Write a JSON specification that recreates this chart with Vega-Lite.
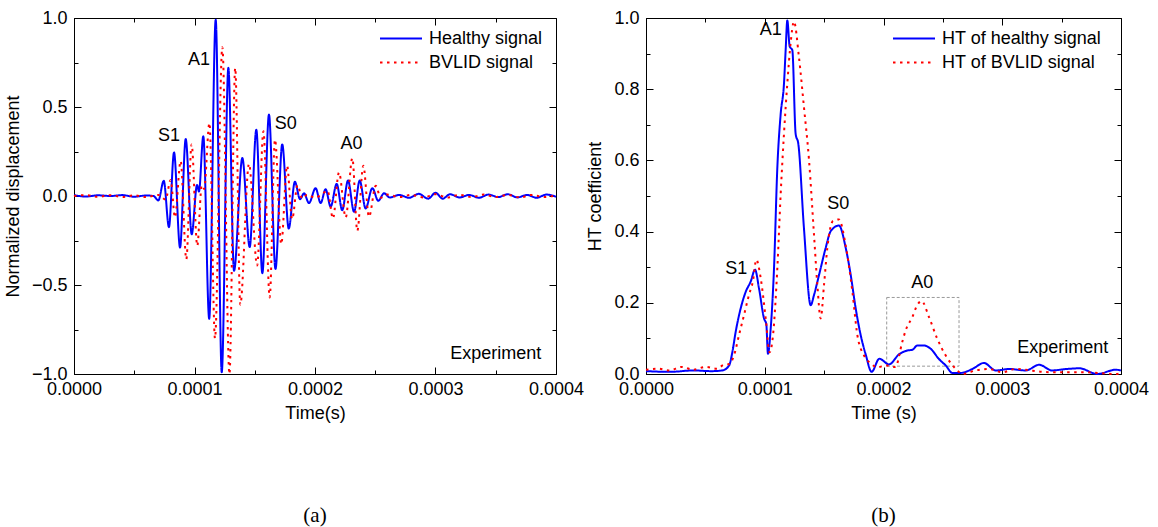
{
  "$schema": "https://vega.github.io/schema/vega-lite/v6.json",
  "padding": {"left": 3, "top": 8, "right": 5, "bottom": 5},
  "background": "white",
  "config": {
    "font": "Liberation Sans",
    "view": {"stroke": "black", "strokeWidth": 1},
    "axis": {
      "grid": false,
      "domainColor": "black",
      "tickColor": "black",
      "labelColor": "black",
      "titleColor": "black",
      "labelFont": "Liberation Sans",
      "titleFont": "Liberation Sans",
      "labelFontSize": 18,
      "titleFontSize": 18,
      "titleFontWeight": "normal",
      "labelOverlap": false,
      "labelFlush": false
    },
    "legend": {
      "labelFont": "Liberation Sans",
      "labelFontSize": 18,
      "labelColor": "black"
    }
  },
  "datasets": {
    "sigA": [
      {"t": 0, "v": 0.005, "s": "Healthy signal"},
      {"t": 0.1e-4, "v": -0.003, "s": "Healthy signal"},
      {"t": 0.2e-4, "v": 0.004, "s": "Healthy signal"},
      {"t": 0.3e-4, "v": 0, "s": "Healthy signal"},
      {"t": 0.4e-4, "v": 0.005, "s": "Healthy signal"},
      {"t": 0.5e-4, "v": -0.004, "s": "Healthy signal"},
      {"t": 0.6e-4, "v": 0.003, "s": "Healthy signal"},
      {"t": 0.66e-4, "v": 0, "s": "Healthy signal"},
      {"t": 0.70e-4, "v": -0.025, "s": "Healthy signal"},
      {"t": 0.745e-4, "v": 0.085, "s": "Healthy signal"},
      {"t": 0.788e-4, "v": -0.175, "s": "Healthy signal"},
      {"t": 0.83e-4, "v": 0.245, "s": "Healthy signal"},
      {"t": 0.88e-4, "v": -0.29, "s": "Healthy signal"},
      {"t": 0.927e-4, "v": 0.32, "s": "Healthy signal"},
      {"t": 0.977e-4, "v": -0.215, "s": "Healthy signal"},
      {"t": 1.021e-4, "v": 0.062, "s": "Healthy signal"},
      {"t": 1.037e-4, "v": 0.025, "s": "Healthy signal"},
      {"t": 1.073e-4, "v": 0.336, "s": "Healthy signal"},
      {"t": 1.122e-4, "v": -0.69, "s": "Healthy signal"},
      {"t": 1.176e-4, "v": 0.99, "s": "Healthy signal"},
      {"t": 1.226e-4, "v": -0.99, "s": "Healthy signal"},
      {"t": 1.281e-4, "v": 0.72, "s": "Healthy signal"},
      {"t": 1.328e-4, "v": -0.42, "s": "Healthy signal"},
      {"t": 1.397e-4, "v": 0.213, "s": "Healthy signal"},
      {"t": 1.458e-4, "v": -0.287, "s": "Healthy signal"},
      {"t": 1.513e-4, "v": 0.372, "s": "Healthy signal"},
      {"t": 1.563e-4, "v": -0.434, "s": "Healthy signal"},
      {"t": 1.618e-4, "v": 0.458, "s": "Healthy signal"},
      {"t": 1.672e-4, "v": -0.41, "s": "Healthy signal"},
      {"t": 1.728e-4, "v": 0.29, "s": "Healthy signal"},
      {"t": 1.782e-4, "v": -0.183, "s": "Healthy signal"},
      {"t": 1.833e-4, "v": 0.08, "s": "Healthy signal"},
      {"t": 1.876e-4, "v": -0.018, "s": "Healthy signal"},
      {"t": 1.909e-4, "v": 0.015, "s": "Healthy signal"},
      {"t": 1.95e-4, "v": -0.04, "s": "Healthy signal"},
      {"t": 2.005e-4, "v": 0.044, "s": "Healthy signal"},
      {"t": 2.047e-4, "v": -0.04, "s": "Healthy signal"},
      {"t": 2.088e-4, "v": 0.038, "s": "Healthy signal"},
      {"t": 2.13e-4, "v": -0.06, "s": "Healthy signal"},
      {"t": 2.18e-4, "v": 0.068, "s": "Healthy signal"},
      {"t": 2.226e-4, "v": -0.08, "s": "Healthy signal"},
      {"t": 2.274e-4, "v": 0.087, "s": "Healthy signal"},
      {"t": 2.324e-4, "v": -0.089, "s": "Healthy signal"},
      {"t": 2.371e-4, "v": 0.087, "s": "Healthy signal"},
      {"t": 2.42e-4, "v": -0.07, "s": "Healthy signal"},
      {"t": 2.476e-4, "v": 0.044, "s": "Healthy signal"},
      {"t": 2.525e-4, "v": -0.027, "s": "Healthy signal"},
      {"t": 2.573e-4, "v": 0.015, "s": "Healthy signal"},
      {"t": 2.62e-4, "v": -0.008, "s": "Healthy signal"},
      {"t": 2.7e-4, "v": 0.006, "s": "Healthy signal"},
      {"t": 2.78e-4, "v": -0.01, "s": "Healthy signal"},
      {"t": 2.86e-4, "v": 0.012, "s": "Healthy signal"},
      {"t": 2.94e-4, "v": -0.015, "s": "Healthy signal"},
      {"t": 3.0e-4, "v": 0.018, "s": "Healthy signal"},
      {"t": 3.06e-4, "v": -0.015, "s": "Healthy signal"},
      {"t": 3.12e-4, "v": 0.01, "s": "Healthy signal"},
      {"t": 3.2e-4, "v": -0.008, "s": "Healthy signal"},
      {"t": 3.28e-4, "v": 0.006, "s": "Healthy signal"},
      {"t": 3.36e-4, "v": -0.01, "s": "Healthy signal"},
      {"t": 3.44e-4, "v": 0.008, "s": "Healthy signal"},
      {"t": 3.52e-4, "v": -0.006, "s": "Healthy signal"},
      {"t": 3.6e-4, "v": 0.01, "s": "Healthy signal"},
      {"t": 3.68e-4, "v": -0.008, "s": "Healthy signal"},
      {"t": 3.76e-4, "v": 0.006, "s": "Healthy signal"},
      {"t": 3.84e-4, "v": -0.01, "s": "Healthy signal"},
      {"t": 3.92e-4, "v": 0.008, "s": "Healthy signal"},
      {"t": 4.0e-4, "v": -0.004, "s": "Healthy signal"},
      {"t": 0, "v": 0, "s": "BVLID signal"},
      {"t": 0.1e-4, "v": 0.005, "s": "BVLID signal"},
      {"t": 0.2e-4, "v": -0.004, "s": "BVLID signal"},
      {"t": 0.3e-4, "v": 0.004, "s": "BVLID signal"},
      {"t": 0.4e-4, "v": -0.005, "s": "BVLID signal"},
      {"t": 0.5e-4, "v": 0.004, "s": "BVLID signal"},
      {"t": 0.6e-4, "v": -0.006, "s": "BVLID signal"},
      {"t": 0.7e-4, "v": 0.006, "s": "BVLID signal"},
      {"t": 0.76e-4, "v": -0.02, "s": "BVLID signal"},
      {"t": 0.802e-4, "v": 0.09, "s": "BVLID signal"},
      {"t": 0.838e-4, "v": -0.12, "s": "BVLID signal"},
      {"t": 0.885e-4, "v": 0.197, "s": "BVLID signal"},
      {"t": 0.932e-4, "v": -0.355, "s": "BVLID signal"},
      {"t": 0.976e-4, "v": 0.29, "s": "BVLID signal"},
      {"t": 1.023e-4, "v": -0.28, "s": "BVLID signal"},
      {"t": 1.06e-4, "v": 0.06, "s": "BVLID signal"},
      {"t": 1.08e-4, "v": 0.04, "s": "BVLID signal"},
      {"t": 1.124e-4, "v": 0.41, "s": "BVLID signal"},
      {"t": 1.17e-4, "v": -0.80, "s": "BVLID signal"},
      {"t": 1.231e-4, "v": 0.836, "s": "BVLID signal"},
      {"t": 1.29e-4, "v": -1.0, "s": "BVLID signal"},
      {"t": 1.338e-4, "v": 0.72, "s": "BVLID signal"},
      {"t": 1.38e-4, "v": -0.61, "s": "BVLID signal"},
      {"t": 1.452e-4, "v": 0.18, "s": "BVLID signal"},
      {"t": 1.52e-4, "v": -0.39, "s": "BVLID signal"},
      {"t": 1.572e-4, "v": 0.364, "s": "BVLID signal"},
      {"t": 1.624e-4, "v": -0.57, "s": "BVLID signal"},
      {"t": 1.668e-4, "v": 0.317, "s": "BVLID signal"},
      {"t": 1.72e-4, "v": -0.27, "s": "BVLID signal"},
      {"t": 1.768e-4, "v": 0.17, "s": "BVLID signal"},
      {"t": 1.81e-4, "v": -0.13, "s": "BVLID signal"},
      {"t": 1.855e-4, "v": 0.06, "s": "BVLID signal"},
      {"t": 1.895e-4, "v": -0.015, "s": "BVLID signal"},
      {"t": 1.935e-4, "v": 0.008, "s": "BVLID signal"},
      {"t": 2.0e-4, "v": -0.01, "s": "BVLID signal"},
      {"t": 2.06e-4, "v": 0.012, "s": "BVLID signal"},
      {"t": 2.105e-4, "v": 0.03, "s": "BVLID signal"},
      {"t": 2.149e-4, "v": -0.126, "s": "BVLID signal"},
      {"t": 2.199e-4, "v": 0.132, "s": "BVLID signal"},
      {"t": 2.255e-4, "v": -0.12, "s": "BVLID signal"},
      {"t": 2.31e-4, "v": 0.213, "s": "BVLID signal"},
      {"t": 2.351e-4, "v": -0.196, "s": "BVLID signal"},
      {"t": 2.401e-4, "v": 0.17, "s": "BVLID signal"},
      {"t": 2.448e-4, "v": -0.117, "s": "BVLID signal"},
      {"t": 2.504e-4, "v": 0.057, "s": "BVLID signal"},
      {"t": 2.545e-4, "v": -0.01, "s": "BVLID signal"},
      {"t": 2.6e-4, "v": 0.008, "s": "BVLID signal"},
      {"t": 2.7e-4, "v": -0.006, "s": "BVLID signal"},
      {"t": 2.8e-4, "v": 0.006, "s": "BVLID signal"},
      {"t": 2.9e-4, "v": -0.008, "s": "BVLID signal"},
      {"t": 3.0e-4, "v": 0.01, "s": "BVLID signal"},
      {"t": 3.1e-4, "v": -0.008, "s": "BVLID signal"},
      {"t": 3.2e-4, "v": 0.006, "s": "BVLID signal"},
      {"t": 3.3e-4, "v": -0.006, "s": "BVLID signal"},
      {"t": 3.4e-4, "v": 0.008, "s": "BVLID signal"},
      {"t": 3.5e-4, "v": -0.006, "s": "BVLID signal"},
      {"t": 3.6e-4, "v": 0.006, "s": "BVLID signal"},
      {"t": 3.7e-4, "v": -0.008, "s": "BVLID signal"},
      {"t": 3.8e-4, "v": 0.006, "s": "BVLID signal"},
      {"t": 3.9e-4, "v": -0.006, "s": "BVLID signal"},
      {"t": 4.0e-4, "v": 0.004, "s": "BVLID signal"}
    ],
    "sigB": [
      {"t": 0, "v": 0.008, "s": "HT of healthy signal"},
      {"t": 0.2e-4, "v": 0.006, "s": "HT of healthy signal"},
      {"t": 0.4e-4, "v": 0.01, "s": "HT of healthy signal"},
      {"t": 0.55e-4, "v": 0.008, "s": "HT of healthy signal"},
      {"t": 0.643e-4, "v": 0.01, "s": "HT of healthy signal"},
      {"t": 0.70e-4, "v": 0.024, "s": "HT of healthy signal"},
      {"t": 0.727e-4, "v": 0.061, "s": "HT of healthy signal"},
      {"t": 0.755e-4, "v": 0.118, "s": "HT of healthy signal"},
      {"t": 0.797e-4, "v": 0.184, "s": "HT of healthy signal"},
      {"t": 0.84e-4, "v": 0.231, "s": "HT of healthy signal"},
      {"t": 0.882e-4, "v": 0.26, "s": "HT of healthy signal"},
      {"t": 0.918e-4, "v": 0.293, "s": "HT of healthy signal"},
      {"t": 0.952e-4, "v": 0.24, "s": "HT of healthy signal"},
      {"t": 0.994e-4, "v": 0.156, "s": "HT of healthy signal"},
      {"t": 1.013e-4, "v": 0.14, "s": "HT of healthy signal"},
      {"t": 1.027e-4, "v": 0.057, "s": "HT of healthy signal"},
      {"t": 1.05e-4, "v": 0.127, "s": "HT of healthy signal"},
      {"t": 1.078e-4, "v": 0.297, "s": "HT of healthy signal"},
      {"t": 1.106e-4, "v": 0.58, "s": "HT of healthy signal"},
      {"t": 1.134e-4, "v": 0.73, "s": "HT of healthy signal"},
      {"t": 1.162e-4, "v": 0.816, "s": "HT of healthy signal"},
      {"t": 1.176e-4, "v": 0.91, "s": "HT of healthy signal"},
      {"t": 1.19e-4, "v": 0.993, "s": "HT of healthy signal"},
      {"t": 1.21e-4, "v": 0.92, "s": "HT of healthy signal"},
      {"t": 1.232e-4, "v": 0.91, "s": "HT of healthy signal"},
      {"t": 1.26e-4, "v": 0.675, "s": "HT of healthy signal"},
      {"t": 1.283e-4, "v": 0.646, "s": "HT of healthy signal"},
      {"t": 1.33e-4, "v": 0.41, "s": "HT of healthy signal"},
      {"t": 1.387e-4, "v": 0.193, "s": "HT of healthy signal"},
      {"t": 1.415e-4, "v": 0.222, "s": "HT of healthy signal"},
      {"t": 1.457e-4, "v": 0.278, "s": "HT of healthy signal"},
      {"t": 1.513e-4, "v": 0.354, "s": "HT of healthy signal"},
      {"t": 1.555e-4, "v": 0.401, "s": "HT of healthy signal"},
      {"t": 1.625e-4, "v": 0.417, "s": "HT of healthy signal"},
      {"t": 1.682e-4, "v": 0.354, "s": "HT of healthy signal"},
      {"t": 1.724e-4, "v": 0.278, "s": "HT of healthy signal"},
      {"t": 1.766e-4, "v": 0.184, "s": "HT of healthy signal"},
      {"t": 1.808e-4, "v": 0.109, "s": "HT of healthy signal"},
      {"t": 1.85e-4, "v": 0.055, "s": "HT of healthy signal"},
      {"t": 1.9e-4, "v": 0.006, "s": "HT of healthy signal"},
      {"t": 1.965e-4, "v": 0.043, "s": "HT of healthy signal"},
      {"t": 2.046e-4, "v": 0.027, "s": "HT of healthy signal"},
      {"t": 2.13e-4, "v": 0.055, "s": "HT of healthy signal"},
      {"t": 2.2e-4, "v": 0.066, "s": "HT of healthy signal"},
      {"t": 2.243e-4, "v": 0.068, "s": "HT of healthy signal"},
      {"t": 2.285e-4, "v": 0.08, "s": "HT of healthy signal"},
      {"t": 2.341e-4, "v": 0.08, "s": "HT of healthy signal"},
      {"t": 2.397e-4, "v": 0.071, "s": "HT of healthy signal"},
      {"t": 2.467e-4, "v": 0.042, "s": "HT of healthy signal"},
      {"t": 2.524e-4, "v": 0.024, "s": "HT of healthy signal"},
      {"t": 2.58e-4, "v": 0.003, "s": "HT of healthy signal"},
      {"t": 2.65e-4, "v": 0.003, "s": "HT of healthy signal"},
      {"t": 2.748e-4, "v": 0.014, "s": "HT of healthy signal"},
      {"t": 2.846e-4, "v": 0.031, "s": "HT of healthy signal"},
      {"t": 2.945e-4, "v": 0.01, "s": "HT of healthy signal"},
      {"t": 3.06e-4, "v": 0.014, "s": "HT of healthy signal"},
      {"t": 3.2e-4, "v": 0.01, "s": "HT of healthy signal"},
      {"t": 3.31e-4, "v": 0.026, "s": "HT of healthy signal"},
      {"t": 3.42e-4, "v": 0.01, "s": "HT of healthy signal"},
      {"t": 3.54e-4, "v": 0.014, "s": "HT of healthy signal"},
      {"t": 3.65e-4, "v": 0.016, "s": "HT of healthy signal"},
      {"t": 3.8e-4, "v": 0.0, "s": "HT of healthy signal"},
      {"t": 3.955e-4, "v": 0.012, "s": "HT of healthy signal"},
      {"t": 4.0e-4, "v": 0.01, "s": "HT of healthy signal"},
      {"t": 0, "v": 0.012, "s": "HT of BVLID signal"},
      {"t": 0.1e-4, "v": 0.015, "s": "HT of BVLID signal"},
      {"t": 0.2e-4, "v": 0.01, "s": "HT of BVLID signal"},
      {"t": 0.3e-4, "v": 0.02, "s": "HT of BVLID signal"},
      {"t": 0.4e-4, "v": 0.012, "s": "HT of BVLID signal"},
      {"t": 0.5e-4, "v": 0.02, "s": "HT of BVLID signal"},
      {"t": 0.6e-4, "v": 0.015, "s": "HT of BVLID signal"},
      {"t": 0.65e-4, "v": 0.025, "s": "HT of BVLID signal"},
      {"t": 0.70e-4, "v": 0.028, "s": "HT of BVLID signal"},
      {"t": 0.741e-4, "v": 0.052, "s": "HT of BVLID signal"},
      {"t": 0.783e-4, "v": 0.109, "s": "HT of BVLID signal"},
      {"t": 0.825e-4, "v": 0.165, "s": "HT of BVLID signal"},
      {"t": 0.867e-4, "v": 0.222, "s": "HT of BVLID signal"},
      {"t": 0.90e-4, "v": 0.26, "s": "HT of BVLID signal"},
      {"t": 0.929e-4, "v": 0.321, "s": "HT of BVLID signal"},
      {"t": 0.966e-4, "v": 0.269, "s": "HT of BVLID signal"},
      {"t": 1.008e-4, "v": 0.156, "s": "HT of BVLID signal"},
      {"t": 1.041e-4, "v": 0.061, "s": "HT of BVLID signal"},
      {"t": 1.07e-4, "v": 0.11, "s": "HT of BVLID signal"},
      {"t": 1.106e-4, "v": 0.297, "s": "HT of BVLID signal"},
      {"t": 1.134e-4, "v": 0.505, "s": "HT of BVLID signal"},
      {"t": 1.162e-4, "v": 0.675, "s": "HT of BVLID signal"},
      {"t": 1.19e-4, "v": 0.816, "s": "HT of BVLID signal"},
      {"t": 1.218e-4, "v": 0.93, "s": "HT of BVLID signal"},
      {"t": 1.246e-4, "v": 0.99, "s": "HT of BVLID signal"},
      {"t": 1.288e-4, "v": 0.89, "s": "HT of BVLID signal"},
      {"t": 1.33e-4, "v": 0.75, "s": "HT of BVLID signal"},
      {"t": 1.373e-4, "v": 0.6, "s": "HT of BVLID signal"},
      {"t": 1.415e-4, "v": 0.39, "s": "HT of BVLID signal"},
      {"t": 1.443e-4, "v": 0.25, "s": "HT of BVLID signal"},
      {"t": 1.471e-4, "v": 0.156, "s": "HT of BVLID signal"},
      {"t": 1.499e-4, "v": 0.25, "s": "HT of BVLID signal"},
      {"t": 1.527e-4, "v": 0.354, "s": "HT of BVLID signal"},
      {"t": 1.575e-4, "v": 0.43, "s": "HT of BVLID signal"},
      {"t": 1.625e-4, "v": 0.434, "s": "HT of BVLID signal"},
      {"t": 1.682e-4, "v": 0.36, "s": "HT of BVLID signal"},
      {"t": 1.738e-4, "v": 0.231, "s": "HT of BVLID signal"},
      {"t": 1.78e-4, "v": 0.109, "s": "HT of BVLID signal"},
      {"t": 1.836e-4, "v": 0.052, "s": "HT of BVLID signal"},
      {"t": 1.892e-4, "v": 0.03, "s": "HT of BVLID signal"},
      {"t": 1.948e-4, "v": 0.019, "s": "HT of BVLID signal"},
      {"t": 2.018e-4, "v": 0.024, "s": "HT of BVLID signal"},
      {"t": 2.10e-4, "v": 0.02, "s": "HT of BVLID signal"},
      {"t": 2.158e-4, "v": 0.09, "s": "HT of BVLID signal"},
      {"t": 2.187e-4, "v": 0.123, "s": "HT of BVLID signal"},
      {"t": 2.243e-4, "v": 0.16, "s": "HT of BVLID signal"},
      {"t": 2.285e-4, "v": 0.194, "s": "HT of BVLID signal"},
      {"t": 2.321e-4, "v": 0.205, "s": "HT of BVLID signal"},
      {"t": 2.383e-4, "v": 0.16, "s": "HT of BVLID signal"},
      {"t": 2.453e-4, "v": 0.099, "s": "HT of BVLID signal"},
      {"t": 2.524e-4, "v": 0.052, "s": "HT of BVLID signal"},
      {"t": 2.61e-4, "v": 0.014, "s": "HT of BVLID signal"},
      {"t": 2.67e-4, "v": 0.0, "s": "HT of BVLID signal"},
      {"t": 2.775e-4, "v": 0.01, "s": "HT of BVLID signal"},
      {"t": 2.89e-4, "v": 0.014, "s": "HT of BVLID signal"},
      {"t": 3.0e-4, "v": 0.005, "s": "HT of BVLID signal"},
      {"t": 3.11e-4, "v": 0.014, "s": "HT of BVLID signal"},
      {"t": 3.4e-4, "v": 0.005, "s": "HT of BVLID signal"},
      {"t": 3.68e-4, "v": 0.005, "s": "HT of BVLID signal"},
      {"t": 3.96e-4, "v": 0.0, "s": "HT of BVLID signal"},
      {"t": 4.0e-4, "v": 0.003, "s": "HT of BVLID signal"}
    ],
    "annA": [
      {"t": 1.037e-4, "v": 0.764, "label": "A1"},
      {"t": 0.788e-4, "v": 0.336, "label": "S1"},
      {"t": 1.757e-4, "v": 0.402, "label": "S0"},
      {"t": 2.304e-4, "v": 0.294, "label": "A0"},
      {"t": 3.50e-4, "v": -0.888, "label": "Experiment"}
    ],
    "annB": [
      {"t": 1.05e-4, "v": 0.965, "label": "A1"},
      {"t": 0.761e-4, "v": 0.294, "label": "S1"},
      {"t": 1.62e-4, "v": 0.478, "label": "S0"},
      {"t": 2.327e-4, "v": 0.255, "label": "A0"},
      {"t": 3.51e-4, "v": 0.073, "label": "Experiment"}
    ],
    "boxB": [
      {"t1": 2.027e-4, "t2": 2.636e-4, "v1": 0.022, "v2": 0.215}
    ]
  },
  "hconcat": [
    {
      "width": 482,
      "height": 356,
      "title": {"text": "(a)", "orient": "bottom", "font": "Liberation Serif", "fontSize": 21, "fontWeight": "normal", "color": "black", "offset": 83},
      "layer": [
        {
          "data": {"name": "sigA"},
          "mark": {"type": "line", "interpolate": "monotone", "strokeWidth": 2, "strokeCap": "butt"},
          "encoding": {
            "x": {"field": "t", "type": "quantitative", "scale": {"domain": [0, 0.0004], "nice": false, "zero": false},
              "axis": {"orient": "bottom", "title": "Time(s)", "values": [0, 0.00005, 0.0001, 0.00015, 0.0002, 0.00025, 0.0003, 0.00035, 0.0004],
                "labelExpr": "round(datum.value*1e5) % 10 == 0 ? format(datum.value, '.4f') : ''",
                "tickSize": {"condition": {"test": "round(datum.value*1e5) % 10 == 0", "value": -7}, "value": -4},
                "labelPadding": 13, "titlePadding": 3}},
            "y": {"field": "v", "type": "quantitative", "scale": {"domain": [-1, 1], "nice": false, "zero": false},
              "axis": {"orient": "left", "title": "Normalized displacement", "values": [-1, -0.75, -0.5, -0.25, 0, 0.25, 0.5, 0.75, 1],
                "labelExpr": "round(datum.value*4) % 2 == 0 ? format(datum.value, '.1f') : ''",
                "tickSize": {"condition": {"test": "round(datum.value*4) % 2 == 0", "value": -7}, "value": -4},
                "labelPadding": 14, "titlePadding": 9}},
            "color": {"field": "s", "type": "nominal",
              "scale": {"domain": ["Healthy signal", "BVLID signal"], "range": ["#0000ff", "#ff0000"]},
              "legend": {"orient": "none", "legendX": 315.5, "legendY": 9, "title": null, "symbolType": "M-2,0H2", "symbolSize": 441, "symbolStrokeWidth": 2, "rowPadding": 3, "labelOffset": 16.5}},
            "strokeDash": {"field": "s", "type": "nominal",
              "scale": {"domain": ["Healthy signal", "BVLID signal"], "range": [[1, 0], [2.5, 4.5]]}}
          }
        },
        {
          "data": {"name": "annA"},
          "mark": {"type": "text", "fontSize": 18, "font": "Liberation Sans", "color": "black"},
          "encoding": {
            "x": {"field": "t", "type": "quantitative", "scale": {"domain": [0, 0.0004], "nice": false, "zero": false},
              "axis": {"orient": "top", "title": null, "labels": false, "domain": false, "values": [0, 0.00005, 0.0001, 0.00015, 0.0002, 0.00025, 0.0003, 0.00035, 0.0004],
                "tickSize": {"condition": {"test": "round(datum.value*1e5) % 10 == 0", "value": -7}, "value": -4}}},
            "y": {"field": "v", "type": "quantitative", "scale": {"domain": [-1, 1], "nice": false, "zero": false},
              "axis": {"orient": "right", "title": null, "labels": false, "domain": false, "values": [-1, -0.75, -0.5, -0.25, 0, 0.25, 0.5, 0.75, 1],
                "tickSize": {"condition": {"test": "round(datum.value*4) % 2 == 0", "value": -7}, "value": -4}}},
            "text": {"field": "label"}
          }
        }
      ]
    },
    {
      "width": 475,
      "height": 356,
      "title": {"text": "(b)", "orient": "bottom", "font": "Liberation Serif", "fontSize": 21, "fontWeight": "normal", "color": "black", "offset": 83},
      "layer": [
        {
          "data": {"name": "boxB"},
          "mark": {"type": "rect", "fill": null, "fillOpacity": 0, "stroke": "#999999", "strokeWidth": 1, "strokeDash": [3, 2]},
          "encoding": {
            "x": {"field": "t1", "type": "quantitative", "scale": {"domain": [0, 0.0004], "nice": false, "zero": false}, "axis": null},
            "x2": {"field": "t2"},
            "y": {"field": "v1", "type": "quantitative", "scale": {"domain": [0, 1], "nice": false, "zero": false}, "axis": null},
            "y2": {"field": "v2"}
          }
        },
        {
          "data": {"name": "sigB"},
          "mark": {"type": "line", "interpolate": "monotone", "strokeWidth": 2, "strokeCap": "butt"},
          "encoding": {
            "x": {"field": "t", "type": "quantitative", "scale": {"domain": [0, 0.0004], "nice": false, "zero": false},
              "axis": {"orient": "bottom", "title": "Time (s)", "values": [0, 0.00005, 0.0001, 0.00015, 0.0002, 0.00025, 0.0003, 0.00035, 0.0004],
                "labelExpr": "round(datum.value*1e5) % 10 == 0 ? format(datum.value, '.4f') : ''",
                "tickSize": {"condition": {"test": "round(datum.value*1e5) % 10 == 0", "value": -7}, "value": -4},
                "labelPadding": 13, "titlePadding": 3}},
            "y": {"field": "v", "type": "quantitative", "scale": {"domain": [0, 1], "nice": false, "zero": false},
              "axis": {"orient": "left", "title": "HT coefficient", "values": [0, 0.1, 0.2, 0.3, 0.4, 0.5, 0.6, 0.7, 0.8, 0.9, 1],
                "labelExpr": "round(datum.value*10) % 2 == 0 ? format(datum.value, '.1f') : ''",
                "tickSize": {"condition": {"test": "round(datum.value*10) % 2 == 0", "value": -7}, "value": -4},
                "labelPadding": 14, "titlePadding": 9}},
            "color": {"field": "s", "type": "nominal",
              "scale": {"domain": ["HT of healthy signal", "HT of BVLID signal"], "range": ["#0000ff", "#ff0000"]},
              "legend": {"orient": "none", "legendX": 256.5, "legendY": 9, "title": null, "symbolType": "M-2,0H2", "symbolSize": 441, "symbolStrokeWidth": 2, "rowPadding": 3, "labelOffset": 16.5}},
            "strokeDash": {"field": "s", "type": "nominal",
              "scale": {"domain": ["HT of healthy signal", "HT of BVLID signal"], "range": [[1, 0], [2.5, 4.5]]}}
          }
        },
        {
          "data": {"name": "annB"},
          "mark": {"type": "text", "fontSize": 18, "font": "Liberation Sans", "color": "black"},
          "encoding": {
            "x": {"field": "t", "type": "quantitative", "scale": {"domain": [0, 0.0004], "nice": false, "zero": false},
              "axis": {"orient": "top", "title": null, "labels": false, "domain": false, "values": [0, 0.00005, 0.0001, 0.00015, 0.0002, 0.00025, 0.0003, 0.00035, 0.0004],
                "tickSize": {"condition": {"test": "round(datum.value*1e5) % 10 == 0", "value": -7}, "value": -4}}},
            "y": {"field": "v", "type": "quantitative", "scale": {"domain": [0, 1], "nice": false, "zero": false},
              "axis": {"orient": "right", "title": null, "labels": false, "domain": false, "values": [0, 0.1, 0.2, 0.3, 0.4, 0.5, 0.6, 0.7, 0.8, 0.9, 1],
                "tickSize": {"condition": {"test": "round(datum.value*10) % 2 == 0", "value": -7}, "value": -4}}},
            "text": {"field": "label"}
          }
        }
      ]
    }
  ],
  "spacing": 90,
  "bounds": "flush",
  "resolve": {"scale": {"color": "independent", "strokeDash": "independent"}, "legend": {"color": "independent", "strokeDash": "independent"}}
}
